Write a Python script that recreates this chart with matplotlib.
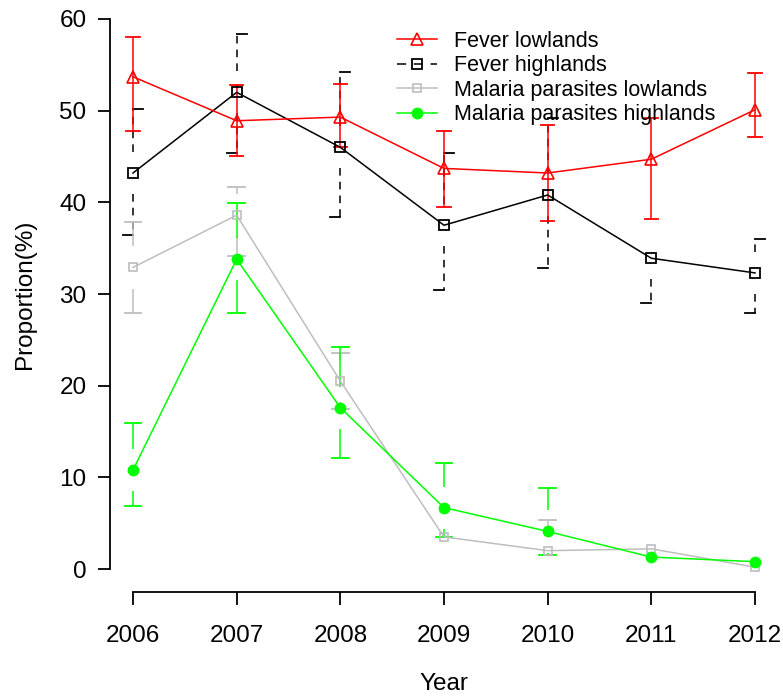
import matplotlib
matplotlib.use('Agg')
import matplotlib.pyplot as plt
from matplotlib.lines import Line2D

plt.rcParams['font.family'] = ['Liberation Sans', 'DejaVu Sans']

# data
years = [2006, 2007, 2008, 2009, 2010, 2011, 2012]

fever_low = [53.7, 48.9, 49.3, 43.7, 43.2, 44.7, 50.1]
fever_low_lo = [47.8, 45.0, 46.0, 39.5, 38.0, 38.2, 47.1]
fever_low_hi = [58.0, 52.8, 52.9, 47.8, 48.4, 49.2, 54.1]

fever_high = [43.2, 52.0, 46.0, 37.5, 40.8, 33.9, 32.3]
fever_high_lo = [36.4, 45.4, 38.4, 30.4, 32.8, 29.0, 27.9]
fever_high_hi = [50.2, 58.4, 54.2, 45.4, 49.2, 35.0, 36.0]

mal_low = [32.9, 38.6, 20.5, 3.5, 2.0, 2.2, 0.2]
mal_low_lo = [27.9, 34.1, 17.5, 1.7, 0.8, 1.2, 0.0]
mal_low_hi = [37.8, 41.7, 23.6, 4.6, 5.4, 3.0, 0.8]

mal_high = [10.8, 33.8, 17.6, 6.7, 4.1, 1.3, 0.8]
mal_high_lo = [6.9, 27.9, 12.1, 3.5, 1.5, 0.3, 0.3]
mal_high_hi = [15.9, 39.9, 24.2, 11.6, 8.8, 2.5, 1.5]

labels = ['Fever lowlands', 'Fever highlands',
          'Malaria parasites lowlands', 'Malaria parasites highlands']

RED, BLACK, GREY, GREEN = '#ff0000', '#000000', '#bebebe', '#00ff00'


def ci_bars(ax, x, y, lo, hi, color, gap, capw, dashed=False, half=False):
    # plotCI-like bars: stem leaves a gap around the point
    ls = (0, (5, 4)) if dashed else '-'
    for xi, yi, l, h in zip(x, y, lo, hi):
        for end, sign in ((h, 1), (l, -1)):
            start = yi + sign * gap
            if (end - start) * sign <= 0:
                continue
            ax.plot([xi, xi], [start, end], color=color, lw=1.1, ls=ls,
                    solid_capstyle='butt', zorder=2)
            if half:
                ax.plot([xi, xi + sign * capw], [end, end], color=color,
                        lw=1.3, zorder=2)
            else:
                ax.plot([xi - capw, xi + capw], [end, end], color=color,
                        lw=1.3, zorder=2)


fig = plt.figure(figsize=(7.83, 6.98), dpi=100)
ax = fig.add_axes([110 / 783, 106 / 698, 673 / 783, 592 / 698])

ax.plot(years, fever_high, color=BLACK, lw=1.1, marker='s', ms=7,
        mfc='none', mec=BLACK, mew=1.3, zorder=3)
ci_bars(ax, years, fever_high, fever_high_lo, fever_high_hi, BLACK,
        gap=2.3, capw=0.095, dashed=True, half=True)

ax.plot(years, fever_low, color=RED, lw=1.1, marker='^', ms=9,
        mfc='none', mec=RED, mew=1.2, zorder=3)
ci_bars(ax, years, fever_low, fever_low_lo, fever_low_hi, RED,
        gap=0, capw=0.063)

ax.plot(years, mal_low, color=GREY, lw=1.1, marker='s', ms=6,
        mfc='none', mec=GREY, mew=1.2, zorder=3)
ci_bars(ax, years, mal_low, mal_low_lo, mal_low_hi, GREY,
        gap=2.3, capw=0.08)

ax.plot(years, mal_high, color=GREEN, lw=1.1, marker='o', ms=7.5,
        mfc=GREEN, mec=GREEN, zorder=4)
ci_bars(ax, years, mal_high, mal_high_lo, mal_high_hi, GREEN,
        gap=2.3, capw=0.08)

ax.set_xlim(2006 - 23 / 103.67, 2012 + 28 / 103.67)
ax.set_ylim(-23 / 9.1667, 60 + 19 / 9.1667)

for s in ('top', 'right'):
    ax.spines[s].set_visible(False)
ax.spines['left'].set_bounds(0, 60)
ax.spines['bottom'].set_bounds(2006, 2012)
for s in ('left', 'bottom'):
    ax.spines[s].set_linewidth(1.3)

ax.set_xticks(years)
ax.set_xticklabels([str(y) for y in years])
ax.set_yticks(range(0, 61, 10))
ax.tick_params(axis='both', direction='out', length=9, width=1.3,
               labelsize=17.5, colors='black')
ax.tick_params(axis='x', pad=15)
ax.tick_params(axis='y', pad=8)

fig.text(444 / 783, 1 - 684 / 698, 'Year', ha='center', va='center',
         fontsize=17.5)
fig.text(25 / 783, 1 - 294 / 698, 'Proportion(%)', ha='center',
         va='center', rotation=90, fontsize=17.5)

handles = [
    Line2D([], [], color=RED, lw=1.1, marker='^', ms=9, mfc='none', mew=1.2),
    Line2D([], [], color=BLACK, lw=1.1, dashes=(6, 5), marker='s', ms=7,
           mfc='none', mew=1.3),
    Line2D([], [], color=GREY, lw=1.1, marker='s', ms=6, mfc='none', mew=1.2),
    Line2D([], [], color=GREEN, lw=1.1, marker='o', ms=7.5),
]
fig.legend(handles, labels, loc='upper left',
           bbox_to_anchor=(397 / 783, 1 - 31 / 698), frameon=False,
           fontsize=15.5, handlelength=1.85, handletextpad=0.8,
           labelspacing=0.16, borderpad=0, borderaxespad=0)

fig.savefig('out.png', dpi=100)
